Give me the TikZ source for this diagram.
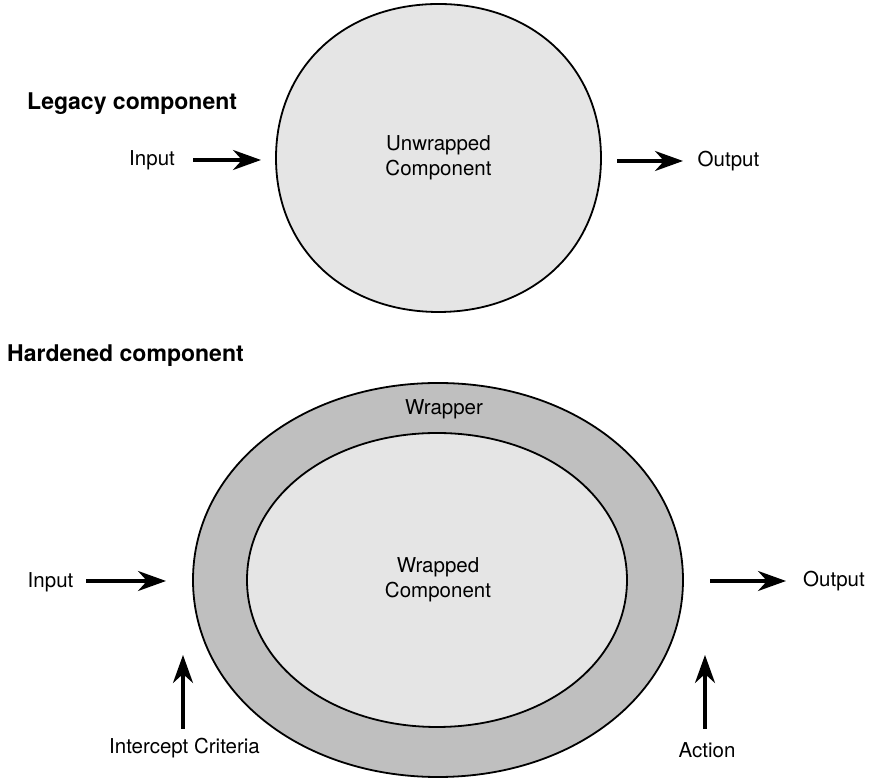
\documentclass[tikz,border=0pt]{standalone}
\usepackage{fontspec}
\setmainfont{TeX Gyre Heros}
\usetikzlibrary{arrows.meta}
\definecolor{lightfill}{HTML}{E5E5E5}
\definecolor{wrapfill}{HTML}{BFBFBF}
\tikzset{
  lbl/.style={font=\fontsize{20.5}{25}\selectfont, align=center, inner sep=0pt},
  ttl/.style={font=\bfseries\fontsize{23}{28}\selectfont, anchor=west, inner sep=0pt},
  blob/.style={draw, line width=1.8pt},
  flow/.style={line width=3.4pt, -{Stealth[length=28pt,width=20pt,inset=9pt]}}
}
% squircle path: center x, center y, rx, ry, bezier factor
\newcommand\sqpath[5]{({#1-#3},{#2})
  .. controls ({#1-#3},{#2+#5*#4}) and ({#1-#5*#3},{#2+#4}) .. ({#1},{#2+#4})
  .. controls ({#1+#5*#3},{#2+#4}) and ({#1+#3},{#2+#5*#4}) .. ({#1+#3},{#2})
  .. controls ({#1+#3},{#2-#5*#4}) and ({#1+#5*#3},{#2-#4}) .. ({#1},{#2-#4})
  .. controls ({#1-#5*#3},{#2-#4}) and ({#1-#3},{#2-#5*#4}) .. cycle}
\begin{document}
\begin{tikzpicture}[x=1pt,y=1pt]
\path[use as bounding box] (0,0) rectangle (871,781);
% top part
\node[ttl] (legacy) at (27,677) {Legacy component};
\draw[blob, fill=lightfill] \sqpath{438.5}{623}{162.5}{154}{0.585};
\node[lbl] (uclbl) at (438.5,623) {Unwrapped\\Component};
\node[lbl] (in1) at (152,621) {Input};
\node[lbl] (out1) at (728.5,620) {Output};
\coordinate (a1s) at (193,621);
\coordinate (a1e) at (261,621);
\coordinate (b1s) at (617,620);
\coordinate (b1e) at (683,620);
\draw[flow] (a1s) -- (a1e);
\draw[flow] (b1s) -- (b1e);
% bottom part
\node[ttl] (hardened) at (7,425) {Hardened component};
\draw[blob, fill=wrapfill] \sqpath{438}{201}{245}{197}{0.565};
\draw[blob, fill=lightfill] \sqpath{437}{201}{190}{147}{0.565};
\node[lbl] (wraplbl) at (444,372) {Wrapper};
\node[lbl] (wclbl) at (438,201) {Wrapped\\Component};
\node[lbl] (in2) at (50.5,199) {Input};
\node[lbl] (out2) at (834,200) {Output};
\node[lbl] (crit) at (184.5,33) {Intercept Criteria};
\node[lbl] (act) at (707,31) {Action};
\coordinate (a2s) at (86,200);
\coordinate (a2e) at (166,200);
\coordinate (b2s) at (710,200);
\coordinate (b2e) at (786,200);
\coordinate (c2s) at (183,52);
\coordinate (c2e) at (183,126);
\coordinate (d2s) at (705,52);
\coordinate (d2e) at (705,126);
\draw[flow] (a2s) -- (a2e);
\draw[flow] (b2s) -- (b2e);
\draw[flow] (c2s) -- (c2e);
\draw[flow] (d2s) -- (d2e);
\end{tikzpicture}
\end{document}
